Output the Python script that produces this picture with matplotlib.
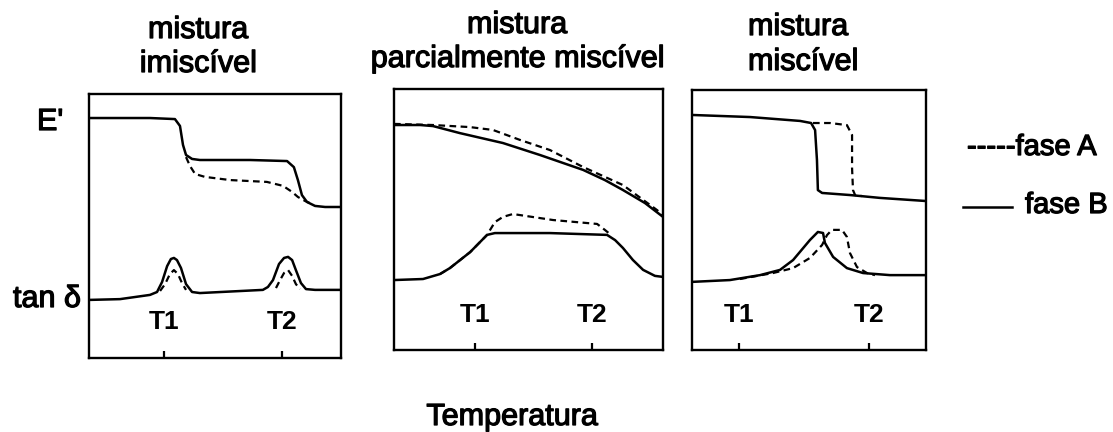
import numpy as np
import matplotlib
matplotlib.use('Agg')
import matplotlib.pyplot as plt
import matplotlib.patheffects as pe
from matplotlib.lines import Line2D

plt.rcParams['font.family'] = ['Liberation Sans', 'DejaVu Sans']

# temperature axis in arbitrary units (0-100 across each box), signals in arbitrary units (0-100)

# --- mistura imiscivel ---
imi_E_B_x = [0, 12.3, 24.2, 34.1, 36.1, 37.3, 38.5, 40.9, 44.0, 63.9, 78.6, 81.3, 82.9, 84.5, 86.5, 89.7, 93.7, 100]
imi_E_B_y = [90.9, 90.9, 90.9, 90.5, 87.9, 80.7, 76.9, 75.4, 75.0, 75.0, 74.6, 72.3, 67.4, 61.7, 59.1, 57.6, 57.2, 57.2]
imi_E_A_x = [38.5, 40.1, 42.1, 46.0, 56.0, 70.6, 77.0, 80.6, 82.9, 85.7, 88.5]
imi_E_A_y = [76.1, 72.7, 69.7, 68.6, 67.4, 66.7, 65.2, 62.9, 61.0, 59.5, 58.3]
imi_tan_B_x = [0, 12.3, 24.2, 27.0, 29.0, 31.0, 32.5, 33.7, 34.9, 36.5, 38.5, 40.9, 44.0,
               69.0, 71.0, 73.0, 75.4, 77.4, 79.0, 80.6, 82.1, 84.1, 86.1, 89.7, 100]
imi_tan_B_y = [22.0, 22.3, 23.9, 25.0, 28.8, 34.8, 37.5, 37.9, 37.1, 34.1, 28.0, 25.0, 24.6,
               25.8, 26.9, 29.5, 35.6, 37.9, 38.3, 37.1, 33.3, 28.4, 26.1, 25.8, 25.8]
imi_tan_A_x = [28.2, 30.2, 32.1, 33.7, 35.3, 36.9, 38.5, np.nan, 74.2, 75.8, 77.4, 79.0, 80.6, 82.1, 83.7]
imi_tan_A_y = [25.4, 28.0, 31.8, 33.3, 31.8, 28.4, 25.8, np.nan, 26.5, 29.5, 32.2, 33.3, 31.1, 28.0, 26.1]
imi_T = [29.8, 76.6]

# --- mistura parcialmente miscivel ---
par_E_B_x = [0, 9.7, 14.5, 24.5, 40.5, 54.3, 70.3, 78.4, 85.1, 93.3, 100]
par_E_B_y = [86.2, 86.2, 85.8, 83.1, 79.3, 74.7, 69.0, 65.1, 61.3, 56.3, 51.0]
par_E_A_x = [0, 1.1, 14.5, 28.3, 36.8, 46.8, 58.0, 70.3, 85.1, 97.8, 100]
par_E_A_y = [86.6, 86.6, 86.2, 85.4, 84.3, 80.5, 76.6, 70.1, 63.2, 53.6, 51.7]
par_tan_B_x = [0, 10.8, 17.1, 20.8, 28.3, 34.6, 37.5, 58.0, 79.2, 82.2, 85.1, 88.8, 92.6, 97.0, 100]
par_tan_B_y = [26.8, 27.2, 29.1, 31.4, 37.5, 44.1, 44.8, 44.8, 44.1, 42.1, 39.1, 34.5, 30.7, 28.4, 28.0]
par_tan_A_x = [17.1, 20.8, 28.3, 34.6, 37.5, 40.5, 44.2, 59.1, 75.5, 78.4, 80.3]
par_tan_A_y = [29.1, 31.4, 37.5, 44.1, 49.0, 51.0, 52.1, 49.8, 48.3, 46.0, 44.4]
par_T = [30.1, 73.6]

# --- mistura miscivel ---
mis_E_B_x = [0, 24.8, 46.2, 50.9, 52.6, 53.4, 53.8, 55.6, 67.5, 80.3, 100]
mis_E_B_y = [90.4, 89.6, 88.1, 87.3, 84.6, 73.1, 61.5, 60.4, 59.6, 58.5, 57.3]
mis_E_A_x = [51.7, 59.0, 66.2, 68.4, 68.4, 68.8, 69.7, 72.6]
mis_E_A_y = [87.3, 87.3, 86.5, 82.7, 70.0, 61.5, 59.6, 59.2]
mis_tan_B_x = [0, 16.2, 29.1, 37.6, 43.2, 50.4, 53.8, 56.0, 56.8, 60.3, 66.2, 73.1, 84.6, 100]
mis_tan_B_y = [26.2, 26.9, 28.8, 30.8, 34.6, 42.3, 45.4, 45.0, 41.2, 35.8, 31.5, 29.6, 28.8, 28.8]
mis_tan_A_x = [20.5, 34.6, 43.2, 50.4, 55.6, 57.7, 59.8, 64.1, 66.2, 67.5, 70.5, 74.8, 78.2]
mis_tan_A_y = [27.3, 29.6, 31.5, 35.4, 40.4, 44.2, 46.2, 46.2, 43.5, 37.3, 31.9, 29.6, 28.8]
mis_T = [20.1, 75.6]

tick_labels = ['T1', 'T2']

W, H = 1113, 432
fig = plt.figure(figsize=(W / 100, H / 100), dpi=100)
# the scanned text looks heavier than a plain regular face
thick = [pe.withStroke(linewidth=0.9, foreground='k')]


def box(l, t, r, b):
    return [l / W, 1 - b / H, (r - l) / W, (b - t) / H]


def panel(rect, curves, tpos):
    ax = fig.add_axes(rect)
    for x, y, style in curves:
        if style == 'A':
            ax.plot(x, y, color='k', lw=1.6, ls=(0, (3, 2)))
        else:
            ax.plot(x, y, color='k', lw=1.8)
    ax.set_xlim(0, 100)
    ax.set_ylim(0, 100)
    ax.set_yticks([])
    ax.set_xticks(tpos)
    ax.set_xticklabels([])
    ax.tick_params(axis='x', direction='in', length=5, width=1.6)
    for s in ax.spines.values():
        s.set_linewidth(1.7)
    for xp, lab in zip(tpos, tick_labels):
        ax.text(xp, 0.09, lab, transform=ax.get_xaxis_transform(), ha='center', va='bottom',
                fontsize=19, fontweight='bold')
    return ax


panel(box(89, 94, 341, 358),
      [(imi_E_B_x, imi_E_B_y, 'B'), (imi_E_A_x, imi_E_A_y, 'A'),
       (imi_tan_B_x, imi_tan_B_y, 'B'), (imi_tan_A_x, imi_tan_A_y, 'A')], imi_T)
panel(box(394, 89, 663, 350),
      [(par_E_B_x, par_E_B_y, 'B'), (par_E_A_x, par_E_A_y, 'A'),
       (par_tan_B_x, par_tan_B_y, 'B'), (par_tan_A_x, par_tan_A_y, 'A')], par_T)
panel(box(692, 90, 926, 350),
      [(mis_E_B_x, mis_E_B_y, 'B'), (mis_E_A_x, mis_E_A_y, 'A'),
       (mis_tan_B_x, mis_tan_B_y, 'B'), (mis_tan_A_x, mis_tan_A_y, 'A')], mis_T)


def ftext(x, y, s, ha='left', size=22):
    fig.text(x / W, 1 - y / H, s, ha=ha, va='baseline', fontsize=size, path_effects=thick)


ftext(198, 38, 'mistura', 'center')
ftext(198, 72, 'imiscível', 'center')
ftext(517, 33, 'mistura', 'center')
ftext(517, 67, 'parcialmente miscível', 'center')
ftext(748, 35, 'mistura')
ftext(748, 70, 'miscível')

ftext(37, 130, "E'")
ftext(13, 307, 'tan δ')

ftext(967, 155, '-----fase A', size=21)
fig.add_artist(Line2D([963 / W, 1012 / W], [1 - 207 / H, 1 - 207 / H], color='k', lw=1.8))
ftext(1025, 213, 'fase B', size=21)

ftext(512, 425, 'Temperatura', 'center')

fig.savefig('out.png', dpi=100)
